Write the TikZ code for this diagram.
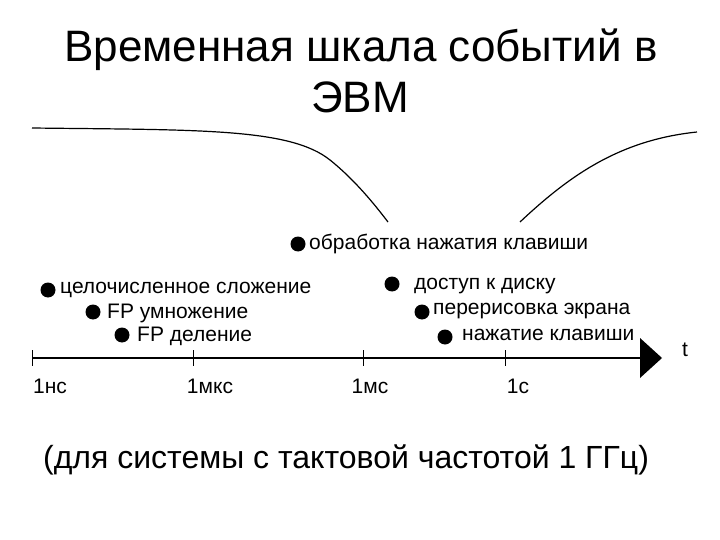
\documentclass[tikz,border=0pt]{standalone}
\usepackage{fontspec}
\setmainfont{Liberation Sans}
\begin{document}
\begin{tikzpicture}[x=1pt,y=-1pt,
  dot/.style={circle,fill=black,inner sep=0pt,minimum size=15pt},
  lbl/.style={font=\fontsize{21}{23}\selectfont,anchor=west,inner sep=0pt},
  tlbl/.style={font=\fontsize{21}{23}\selectfont,inner sep=0pt},
  tick/.style={line width=1pt}]
\useasboundingbox (0,0) rectangle (720,540);
\node[font=\fontsize{44}{48}\selectfont] (t1) at (361,50) {Временная шкала событий в};
\node[font=\fontsize{44}{48}\selectfont] (t2) at (360,97) {ЭВМ};
\draw[line width=1.2pt] (32,128) .. controls (200,130) and (290,128) .. (330,160) .. controls (355,180) and (375,205) .. (388,222);
\draw[line width=1.2pt] (520,222) .. controls (570,175) and (620,140) .. (697,132);
\coordinate (a0) at (32,358);
\coordinate (a1) at (640,358);
\draw[line width=1.2pt] (a0) -- (a1);
\fill (640,338) -- (662,358) -- (640,378) -- cycle;
\foreach \x in {32,193,363,505}{\draw[tick] (\x,350) -- (\x,366);}
\node[tlbl] (l1) at (50,386) {1нс};
\node[tlbl] (l2) at (210,386) {1мкс};
\node[tlbl] (l3) at (370,386) {1мс};
\node[tlbl] (l4) at (518,386) {1с};
\node[tlbl] (t) at (685,350) {t};
\node[dot] (d1) at (298,244) {}; \node[lbl] at (309,244) {обработка нажатия клавиши};
\node[dot] (d2) at (48,290) {}; \node[lbl] at (60,290) {целочисленное сложение};
\node[dot] (d3) at (93,312) {}; \node[lbl] at (107,313) {FP умножение};
\node[dot] (d4) at (122,335) {}; \node[lbl] at (137,336) {FP деление};
\node[dot] (d5) at (392,284) {}; \node[lbl] at (414,286) {доступ к диску};
\node[dot] (d6) at (422,312) {}; \node[lbl] at (433,311) {перерисовка экрана};
\node[dot] (d7) at (445,337) {}; \node[lbl] at (462,335) {нажатие клавиши};
\node[font=\fontsize{32}{35}\selectfont] (b) at (346,460) {(для системы с тактовой частотой 1 ГГц)};
\end{tikzpicture}
\end{document}
